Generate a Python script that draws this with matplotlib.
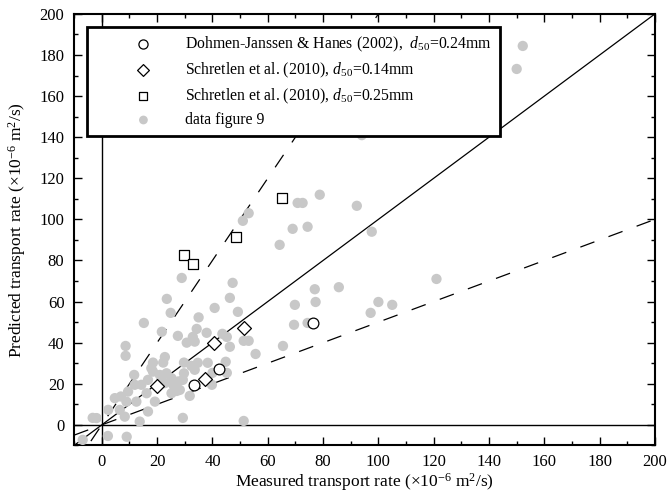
import numpy as np
import matplotlib
matplotlib.use('Agg')
import matplotlib.pyplot as plt
from matplotlib.ticker import MultipleLocator

plt.rcParams['font.family'] = ['Liberation Serif', 'DejaVu Serif']
plt.rcParams['mathtext.fontset'] = 'custom'
plt.rcParams['mathtext.rm'] = 'Liberation Serif'
plt.rcParams['mathtext.it'] = 'Liberation Serif:italic'

# Dohmen-Janssen & Hanes (2002)
dj_meas = [33.5, 42.5, 76.5]
dj_pred = [19.5, 27.3, 49.6]

# Schretlen et al. (2010), d50=0.14mm
s14_meas = [19.9, 37.2, 40.4, 51.3]
s14_pred = [19.0, 22.4, 39.9, 47.2]

# Schretlen et al. (2010), d50=0.25mm
s25_meas = [29.6, 32.9, 48.4, 65.3]
s25_pred = [82.7, 78.3, 91.5, 110.5]

# data figure 9
f9_meas = [152.2, 150.0, 94.0, 121.0, 70.8, 72.6, 78.8, 92.2, 69.0, 74.4,
           64.3, 97.6, 53.1, 51.0, 47.3, 46.3, 40.8, 49.2, 35.0, 77.0,
           85.7, 69.8, 77.3, 100.0, 105.0, 97.2, 69.5, 74.4, 65.5, 55.6,
           51.3, 53.1, 46.3, 45.2, 43.6, 37.9, 44.8, 38.3, 39.8, 45.2,
           40.0, 51.3, 29.3, 28.9, 23.5, 24.9, 15.2, 21.7, 27.5, 34.3,
           32.9, 30.7, 33.6, 22.8, 8.6, 8.6, 18.5, 22.2, 29.7, 32.4,
           34.7, 11.7, 18.5, 21.0, 23.4, 29.7, 33.6, 14.3, 11.9, 22.8,
           25.8, 16.2, 9.5, 6.9, 4.7, 8.9, 12.5, 28.2, 31.8, 19.2,
           6.5, 2.3, 16.7, 13.7, -1.9, 8.3, 25.2, 16.7, 21.6, 25.2,
           27.6, 17.9, 2.2, 9.0, -6.9, -3.3, 27.1, 29.3]
f9_pred = [184.4, 173.2, 141.0, 71.0, 108.0, 108.0, 112.0, 106.6, 95.4, 96.4,
           87.6, 94.0, 103.0, 99.3, 69.1, 61.8, 56.9, 55.0, 52.3, 66.0,
           67.0, 58.4, 59.8, 59.8, 58.4, 54.5, 48.7, 49.6, 38.4, 34.5,
           40.9, 40.9, 38.0, 42.8, 44.3, 44.8, 30.7, 30.2, 19.5, 25.3,
           25.3, 1.9, 3.4, 71.5, 61.3, 54.5, 49.6, 45.3, 43.3, 46.7,
           42.8, 40.0, 40.5, 33.0, 38.4, 33.6, 30.3, 30.3, 30.3, 28.7,
           30.2, 24.3, 25.9, 24.3, 25.1, 25.1, 26.8, 19.5, 19.5, 20.3,
           19.5, 15.4, 16.2, 13.8, 13.0, 11.3, 11.3, 17.0, 14.1, 11.3,
           7.3, 7.3, 6.5, 1.6, 3.3, 4.0, 15.4, 21.9, 21.9, 22.7,
           21.1, 27.6, -5.4, -5.8, -7.3, 3.4, 16.5, 21.9]

fig = plt.figure(figsize=(6.68, 4.96), dpi=100)
ax = fig.add_axes([0.111, 0.102, 0.8695, 0.870])

ax.set_xlim(-10, 200)
ax.set_ylim(-10, 200)

# reference lines
ref = np.array([-10, 200])
ax.axhline(0, color='black', lw=1.0, zorder=1)
ax.axvline(0, color='black', lw=1.0, zorder=1)
ax.plot(ref, ref, color='black', lw=0.9, zorder=2)
ax.plot(ref, 2 * ref, color='black', lw=0.9, dashes=(12, 12), zorder=2)
ax.plot(ref, 0.5 * ref, color='black', lw=0.9, dashes=(12, 12), zorder=2)

ax.scatter(f9_meas, f9_pred, s=55, color='#c8c8c8', edgecolors='none', zorder=3,
           label='data figure 9')
ax.scatter(dj_meas, dj_pred, s=60, marker='o', facecolors='white', edgecolors='black',
           linewidths=0.9, zorder=4,
           label='Dohmen-Janssen & Hanes (2002),  $\\mathit{d}_{50}$=0.24mm')
ax.scatter(s14_meas, s14_pred, s=50, marker='D', facecolors='white', edgecolors='black',
           linewidths=0.9, zorder=4,
           label='Schretlen et al. (2010), $\\mathit{d}_{50}$=0.14mm')
ax.scatter(s25_meas, s25_pred, s=55, marker='s', facecolors='white', edgecolors='black',
           linewidths=0.9, zorder=4,
           label='Schretlen et al. (2010), $\\mathit{d}_{50}$=0.25mm')

h, l = ax.get_legend_handles_labels()
order = [1, 2, 3, 0]
leg = ax.legend([h[i] for i in order], [l[i] for i in order], loc='upper left',
                bbox_to_anchor=(0.022, 0.97), borderaxespad=0, fontsize=11.3,
                frameon=True, fancybox=False, scatterpoints=1, borderpad=0.5,
                handlelength=6.2, handletextpad=-0.45, labelspacing=0.42,
                markerscale=0.85)
leg.get_frame().set_edgecolor('black')
leg.get_frame().set_linewidth(2.0)
leg.get_frame().set_alpha(1)
leg.set_zorder(5)

ax.xaxis.set_major_locator(MultipleLocator(20))
ax.xaxis.set_minor_locator(MultipleLocator(10))
ax.yaxis.set_major_locator(MultipleLocator(20))
ax.yaxis.set_minor_locator(MultipleLocator(10))
ax.tick_params(which='both', direction='in', top=True, right=True, labelsize=12, pad=7)
ax.tick_params(axis='x', which='both', pad=6)
ax.tick_params(which='major', length=6, width=1)
ax.tick_params(which='minor', length=3, width=1)
for s in ax.spines.values():
    s.set_linewidth(1.5)

ax.set_xlabel('Measured transport rate (×10$^{-6}$ m$^2$/s)', fontsize=12.5, labelpad=1)
ax.set_ylabel('Predicted transport rate (×10$^{-6}$ m$^2$/s)', fontsize=12.5, labelpad=8)

plt.savefig('out.png', dpi=100)
